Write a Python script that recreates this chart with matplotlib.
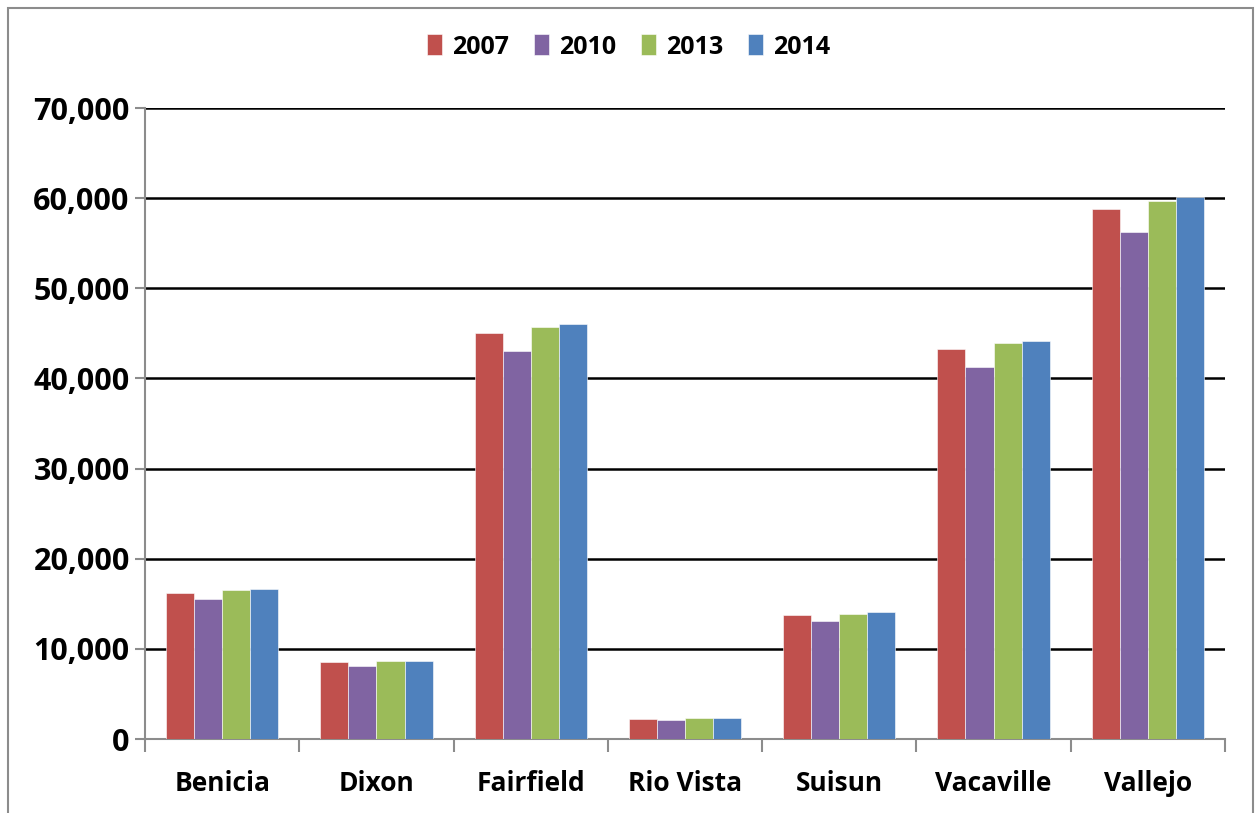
import matplotlib
matplotlib.use("Agg")
import matplotlib.pyplot as plt
from matplotlib.patches import Rectangle
import numpy as np

# --- dados ---
cidades = ["Benicia", "Dixon", "Fairfield", "Rio Vista", "Suisun", "Vacaville", "Vallejo"]
anos = ["2007", "2010", "2013", "2014"]
v2007 = [16200, 8500, 45000, 2200, 13750, 43250, 58800]
v2010 = [15500, 8100, 43000, 2100, 13100, 41300, 56200]
v2013 = [16500, 8600, 45700, 2330, 13900, 43900, 59700]
v2014 = [16600, 8650, 46000, 2300, 14050, 44200, 60100]
series = [v2007, v2010, v2013, v2014]
cores = ["#C0504D", "#8064A2", "#9BBB59", "#4F81BD"]
yticks = list(range(0, 70001, 10000))

plt.rcParams["font.family"] = ["Open Sans", "DejaVu Sans"]
plt.rcParams["font.weight"] = "bold"

W, H = 1257, 813
fig = plt.figure(figsize=(W / 100, H / 100), dpi=100)
ax = fig.add_axes([145 / W, 1 - 739 / H, (1225 - 145) / W, (739 - 108) / H])

# moldura do gráfico
fig.patches.append(Rectangle((8 / W, -0.1), (1253 - 8) / W, 1.1 - 8 / H,
                             transform=fig.transFigure, fill=False,
                             edgecolor="#8C8C8C", lw=1.5))

x = np.arange(len(cidades))
bw = 0.182
for i, (vals, cor, ano) in enumerate(zip(series, cores, anos)):
    ax.bar(x + (i - 1.5) * bw, vals, bw, color=cor, label=ano, zorder=3,
           edgecolor="white", linewidth=0.4)

ax.set_xlim(-0.5, len(cidades) - 0.5)
ax.set_ylim(0, 70000)
ax.set_yticks(yticks)
ax.set_yticklabels([f"{v:,}" for v in yticks], fontsize=22, fontweight="bold")
ax.grid(axis="y", color="black", lw=1.8, zorder=1)
ax.set_axisbelow(True)

for s in ["top", "right"]:
    ax.spines[s].set_visible(False)
for s in ["left", "bottom"]:
    ax.spines[s].set_color("#8C8C8C")
    ax.spines[s].set_linewidth(1.5)

ax.set_xticks(x)
ax.set_xticklabels(cidades, fontsize=19, fontweight="bold")
ax.tick_params(axis="x", length=0, pad=22)
ax.set_xticks(np.arange(-0.5, len(cidades), 1), minor=True)
ax.tick_params(axis="x", which="minor", length=9, width=1.5, color="#8C8C8C")
ax.tick_params(axis="y", length=7, width=1.5, color="#8C8C8C", pad=4)

ax.legend(loc="center", bbox_to_anchor=(0.5, 1 - 47 / H), bbox_transform=fig.transFigure,
          ncol=4, frameon=False, handlelength=0.6, handleheight=0.9,
          handletextpad=0.4, columnspacing=1.0, prop={"weight": "bold", "size": 18})

fig.savefig("out.png", dpi=100)
